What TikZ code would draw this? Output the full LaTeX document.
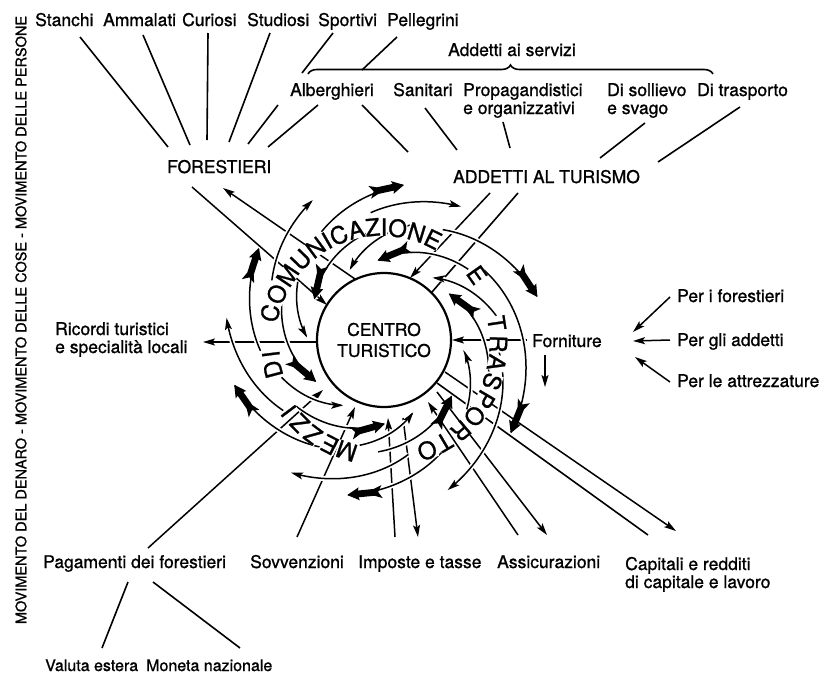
\documentclass[tikz,border=0pt]{standalone}
\usepackage{fontspec}
\setmainfont{TeX Gyre Heros}[FakeBold=1.0]
\usetikzlibrary{arrows.meta,decorations.pathreplacing}
\newcommand{\spiralarc}[5]{\draw[#5] plot[smooth,samples=30,domain=#1:#3,variable=\t] ({384+(#2+(#4-(#2))*((\t)-(#1))/((#3)-(#1)))*cos(\t)},{340+(#2+(#4-(#2))*((\t)-(#1))/((#3)-(#1)))*sin(\t)});}
\newcommand{\fatarc}[4]{%
  \spiralarc{#1}{#2}{#3}{#4}{farc}
  \pgfmathsetmacro\ex{384+(#4)*cos(#3)}%
  \pgfmathsetmacro\ey{340+(#4)*sin(#3)}%
  \pgfmathsetmacro\pphi{(#3)-0.1*((#3)-(#1))}%
  \pgfmathsetmacro\pr{(#4)-0.1*((#4)-(#2))}%
  \pgfmathsetmacro\px{384+\pr*cos(\pphi)}%
  \pgfmathsetmacro\py{340+\pr*sin(\pphi)}%
  \pgfmathsetmacro\ang{atan2(\ey-\py,\ex-\px)}%
  \fill[shift={(\ex,\ey)}, rotate=-\ang] (1,0) -- (-11,6.5) -- (-10,3.4) -- (-26,3.4) -- (-34,6.5) -- (-30,0) -- (-34,-6.5) -- (-26,-3.4) -- (-10,-3.4) -- (-11,-6.5) -- cycle;}
\tikzset{
  lbl/.style={font=\fontsize{17.5}{21}\selectfont, inner sep=0pt, anchor=base west},
  ln/.style={line width=1.6pt},
  arr/.style={line width=1.5pt, -{Stealth[length=12pt,width=7pt,inset=2.5pt]}},
  halo/.style={preaction={draw=white,line width=5pt,arrows=-}},
  oarc/.style={line width=1.5pt, halo, -{Stealth[length=12pt,width=7pt,inset=2.5pt]}},
  farc/.style={line width=1.5pt, halo},
  letter/.style={font=\fontsize{24}{24}\selectfont, inner sep=0pt, fill=white},
}
\begin{document}
\begin{tikzpicture}[x=1pt,y=-1pt]
\useasboundingbox (0,0) rectangle (822,680);
% side title
\node[font=\fontsize{14.5}{15}\selectfont, rotate=90, inner sep=0] (side) at (21,320) {MOVIMENTO DEL DENARO - MOVIMENTO DELLE COSE - MOVIMENTO DELLE PERSONE};
% labels
\node[lbl] (stanchi) at (35,26) {Stanchi};
\node[lbl] (ammalati) at (103,26) {Ammalati};
\node[lbl] (curiosi) at (182,26) {Curiosi};
\node[lbl] (studiosi) at (247,26) {Studiosi};
\node[lbl] (sportivi) at (318,26) {Sportivi};
\node[lbl] (pellegrini) at (387,26) {Pellegrini};
\node[lbl] (servizi) at (448,56) {Addetti ai servizi};
\node[lbl] (alberghieri) at (290,96) {Alberghieri};
\node[lbl] (sanitari) at (393,96) {Sanitari};
\node[lbl] (propag) at (463,96) {Propagandistici};
\node[lbl] (propag2) at (463,114) {e organizzativi};
\node[lbl] (sollievo) at (607,96) {Di sollievo};
\node[lbl] (sollievo2) at (607,114) {e svago};
\node[lbl] (trasporto) at (697,96) {Di trasporto};
\node[lbl] (forestieri) at (167,173) {FORESTIERI};
\node[lbl] (addetti) at (453,183) {ADDETTI AL TURISMO};
\node[lbl] (ricordi) at (55,335) {Ricordi turistici};
\node[lbl] (ricordi2) at (55,353) {e specialità locali};
\node[lbl] (forniture) at (532,347) {Forniture};
\node[lbl] (perf) at (677,302) {Per i forestieri};
\node[lbl] (pera) at (677,346) {Per gli addetti};
\node[lbl] (perat) at (677,387) {Per le attrezzature};
\node[lbl] (pagamenti) at (43,568) {Pagamenti dei forestieri};
\node[lbl] (sovv) at (250,568) {Sovvenzioni};
\node[lbl] (imposte) at (358,568) {Imposte e tasse};
\node[lbl] (assic) at (497,568) {Assicurazioni};
\node[lbl] (capitali) at (625,570) {Capitali e redditi};
\node[lbl] (capitali2) at (625,588) {di capitale e lavoro};
\node[lbl, font=\fontsize{16}{19}\selectfont] (valuta) at (45,671) {Valuta estera};
\node[lbl, font=\fontsize{16}{19}\selectfont] (moneta) at (146,671) {Moneta nazionale};
% coordinates
\foreach \n/\p in {t1a/{80,37},t1b/{168,147},t2a/{143,35},t2b/{190,145},t3a/{208,33},t3b/{207,140},
  t4a/{270,33},t4b/{229,142},t5a/{333,33},t5b/{302,73},t5c/{278,105},t5d/{248,144},
  t6a/{397,37},t6b/{362,70},t6c/{318,105},t6d/{268,147},t7a/{362,105},t7b/{408,152},
  t8a/{425,108},t8b/{457,150},t9a/{503,122},t9b/{510,148},t10a/{645,123},t10b/{600,158},
  t11a/{740,107},t11b/{658,162},ba/{308,74},bb/{713,74},
  fa1/{192,187},fa2/{327,305},fb1/{355,279},fb2/{223,188},aa1/{490,193},aa2/{410,278},
  ab1/{518,193},ab2/{432,292},ri1/{317,342},ri2/{203,342},fo1/{527,340},fo2/{452,340},
  fd1/{545,355},fd2/{545,387},pf1/{670,297},pf2/{633,332},pa1/{670,340},pa2/{633,341},
  pt1/{670,382},pt2/{635,357},pg1/{148,548},pg2/{323,390},sv1/{297,537},sv2/{355,407},
  im1/{395,537},im2/{388,418},im3/{403,418},im4/{418,537},as1/{518,535},as2/{428,402},
  as3/{437,392},as4/{547,535},ca1/{437,383},ca2/{648,535},ca3/{445,372},ca4/{676,531},
  vl1/{128,582},vl2/{102,648},mn1/{153,582},mn2/{240,648}}
  \coordinate (\n) at (\p);
% top connectors
\foreach \a/\b in {t1a/t1b,t2a/t2b,t3a/t3b,t4a/t4b,t5a/t5b,t5c/t5d,t6a/t6b,t6c/t6d,t7a/t7b,t8a/t8b,t9a/t9b,t10a/t10b,t11a/t11b,ca1/ca2,ab1/ab2,vl1/vl2,mn1/mn2}
  \draw[ln] (\a) -- (\b);
\draw[ln, decorate, decoration={brace, amplitude=9pt}] (ba) -- (bb);
% arrows
\foreach \a/\b in {fa1/fa2,fb1/fb2,aa1/aa2,ri1/ri2,fo1/fo2,fd1/fd2,pf1/pf2,pa1/pa2,pt1/pt2,pg1/pg2,sv1/sv2,im1/im2,im3/im4,as1/as2,as3/as4,ca3/ca4}
  \draw[arr] (\a) -- (\b);
% outer clockwise arcs
\spiralarc{264}{128}{300}{154}{oarc}
\spiralarc{208}{127}{243}{157}{oarc}
\spiralarc{145}{123}{188}{159}{oarc}
\spiralarc{78}{117}{125}{162}{oarc}
\spiralarc{365}{115}{427}{163}{oarc}
\fatarc{240}{125}{277}{156}
\fatarc{175}{124}{216}{155}
\fatarc{120}{124}{163}{156}
\fatarc{60}{124}{103}{159}
\fatarc{325}{122}{396}{157}
\fatarc{298}{125}{344}{159}
% inner counter-clockwise arcs
\spiralarc{348}{115}{308}{79}{oarc}
\spiralarc{283}{118}{244}{78}{oarc}
\spiralarc{214}{104}{182}{77}{oarc}
\spiralarc{160}{109}{122}{77}{oarc}
\spiralarc{103}{108}{68}{78}{oarc}
\spiralarc{40}{108}{8}{81}{oarc}
\fatarc{320}{110}{266}{80}
\fatarc{264}{110}{211}{81}
\fatarc{202}{110}{149}{80}
\fatarc{143}{110}{90}{84}
\fatarc{93}{112}{40}{88}
\fatarc{378}{110}{325}{80}
% ring text
\foreach \mych/\a/\r [count=\i] in {M/108.6/117, E/117.4/118, Z/126.8/118.5, Z/135.3/118.5, I/143.2/119,
  D/165.2/115, I/172.8/114,
  C/193.3/117, O/203.2/116.5, M/213.8/116, U/224.0/115.5, N/233.5/115, I/240.1/114.7, C/246.7/114.3,
  A/255.8/113.8, Z/264.2/113.3, I/270.0/113, O/277.0/112.6, N/286.9/112.3, E/296.0/112,
  E/325/113.5,
  T/351.5/114, R/362/114.5, A/371.5/115, S/381/116, P/390.5/117, O/400/118.5, R/409.7/119, T/419.5/118.5, O/428.6/118.5}
  \node[letter, rotate={-\a-90}] (L\i) at ({384+\r*cos(\a)},{340+\r*sin(\a)}) {\mych};
% centre
\node[circle, draw, line width=2.2pt, minimum size=134pt, inner sep=0pt, align=center,
  font=\fontsize{17.5}{21}\selectfont] (centro) at (384,340) {CENTRO\\TURISTICO};
\end{tikzpicture}
\end{document}
